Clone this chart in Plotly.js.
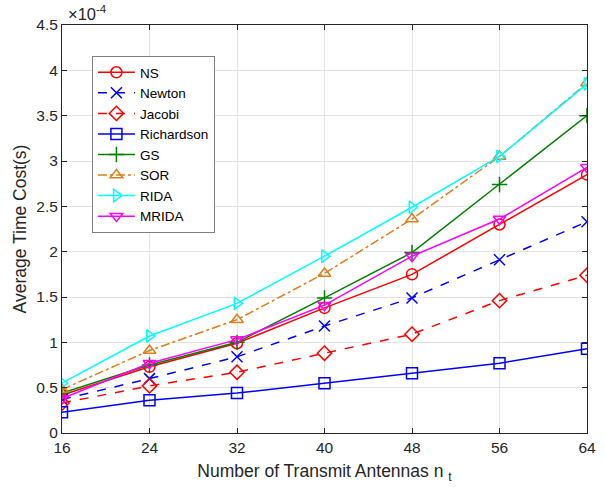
<!DOCTYPE html>
<html>
<head>
<meta charset="utf-8">
<script src="https://cdn.plot.ly/plotly-3.0.1.min.js"></script>
<style>html,body{margin:0;padding:0;background:#fff;}#chart{width:605px;height:487px;}</style>
</head>
<body>
<div id="chart"></div>
<script>
// Number of transmit antennas
const antennas = [16, 24, 32, 40, 48, 56, 64];

// Average time cost per detector, in units of 1e-4 s
const ns         = [0.42, 0.73, 0.99, 1.38, 1.75, 2.30, 2.85];
const newton     = [0.37, 0.60, 0.84, 1.18, 1.49, 1.91, 2.33];
const jacobi     = [0.33, 0.52, 0.67, 0.88, 1.09, 1.46, 1.74];
const richardson = [0.23, 0.36, 0.44, 0.55, 0.66, 0.77, 0.93];
const gs         = [0.44, 0.75, 1.00, 1.49, 1.99, 2.74, 3.50];
const sor        = [0.48, 0.91, 1.25, 1.76, 2.36, 3.05, 3.86];
const rida       = [0.55, 1.07, 1.43, 1.95, 2.49, 3.05, 3.85];
const mrida      = [0.38, 0.77, 1.03, 1.41, 1.95, 2.36, 2.93];

const yTicks = [0, 0.5, 1, 1.5, 2, 2.5, 3, 3.5, 4, 4.5];
const yTickText = ['0', '0.5', '1', '1.5', '2', '2.5', '3', '3.5', '4', '4.5'];

function series(name, y, color, symbol, dash) {
  return {
    x: antennas, y: y, name: name, type: 'scatter', mode: 'lines+markers',
    line: {color: color, width: 1.5, dash: dash || 'solid'},
    marker: {symbol: symbol, size: 11, color: color, line: {color: color, width: 1.5}}
  };
}

const traces = [
  series('NS', ns, '#ff0000', 'circle-open'),
  series('Newton', newton, '#0000ff', 'x-thin-open', 'dash'),
  series('Jacobi', jacobi, '#ff0000', 'diamond-open', 'dash'),
  series('Richardson', richardson, '#0000ff', 'square-open'),
  series('GS', gs, '#008000', 'cross-thin-open'),
  series('SOR', sor, '#e07d1a', 'triangle-up-open', 'dashdot'),
  series('RIDA', rida, '#00ffff', 'triangle-right-open'),
  series('MRIDA', mrida, '#ff00ff', 'triangle-down-open')
];

const fam = 'Liberation Sans, Arial, sans-serif';
const ink = '#262626';

const layout = {
  width: 605, height: 487,
  margin: {l: 62, r: 18, t: 25, b: 54},
  paper_bgcolor: '#ffffff', plot_bgcolor: '#ffffff',
  font: {family: fam, size: 15, color: ink},
  showlegend: true,
  legend: {
    x: 0.057, y: 0.924, xanchor: 'left', yanchor: 'top',
    bgcolor: '#ffffff', bordercolor: '#7f7f7f', borderwidth: 1,
    font: {family: fam, size: 13.5, color: '#000000'},
    tracegroupgap: 0, itemwidth: 37
  },
  xaxis: {
    range: [16, 64], tickvals: antennas, ticktext: antennas.map(String),
    showgrid: true, gridcolor: '#e3e3e3', gridwidth: 1,
    showline: true, linecolor: ink, linewidth: 1, mirror: 'ticks',
    ticks: 'inside', ticklen: 5, tickcolor: ink,
    zeroline: false, tickfont: {family: fam, size: 15.5, color: ink},
    title: {text: 'Number of Transmit Antennas n <sub>t</sub>', font: {family: fam, size: 17.5, color: ink}, standoff: 10}
  },
  yaxis: {
    range: [0, 4.5], tickvals: yTicks, ticktext: yTickText,
    showgrid: true, gridcolor: '#e3e3e3', gridwidth: 1,
    showline: true, linecolor: ink, linewidth: 1, mirror: 'ticks',
    ticks: 'inside', ticklen: 5, tickcolor: ink,
    zeroline: false, tickfont: {family: fam, size: 15.5, color: ink},
    title: {text: 'Average Time Cost(s)', font: {family: fam, size: 17.5, color: ink}, standoff: 5}
  },
  annotations: [{
    xref: 'paper', yref: 'paper', x: 0, y: 1, xanchor: 'left', yanchor: 'bottom',
    xshift: 4, yshift: 0,
    text: '\u00d710<sup>-4</sup>', showarrow: false,
    font: {family: fam, size: 16.5, color: ink}
  }]
};

Plotly.newPlot('chart', traces, layout, {displayModeBar: false, staticPlot: true});
</script>
</body>
</html>
